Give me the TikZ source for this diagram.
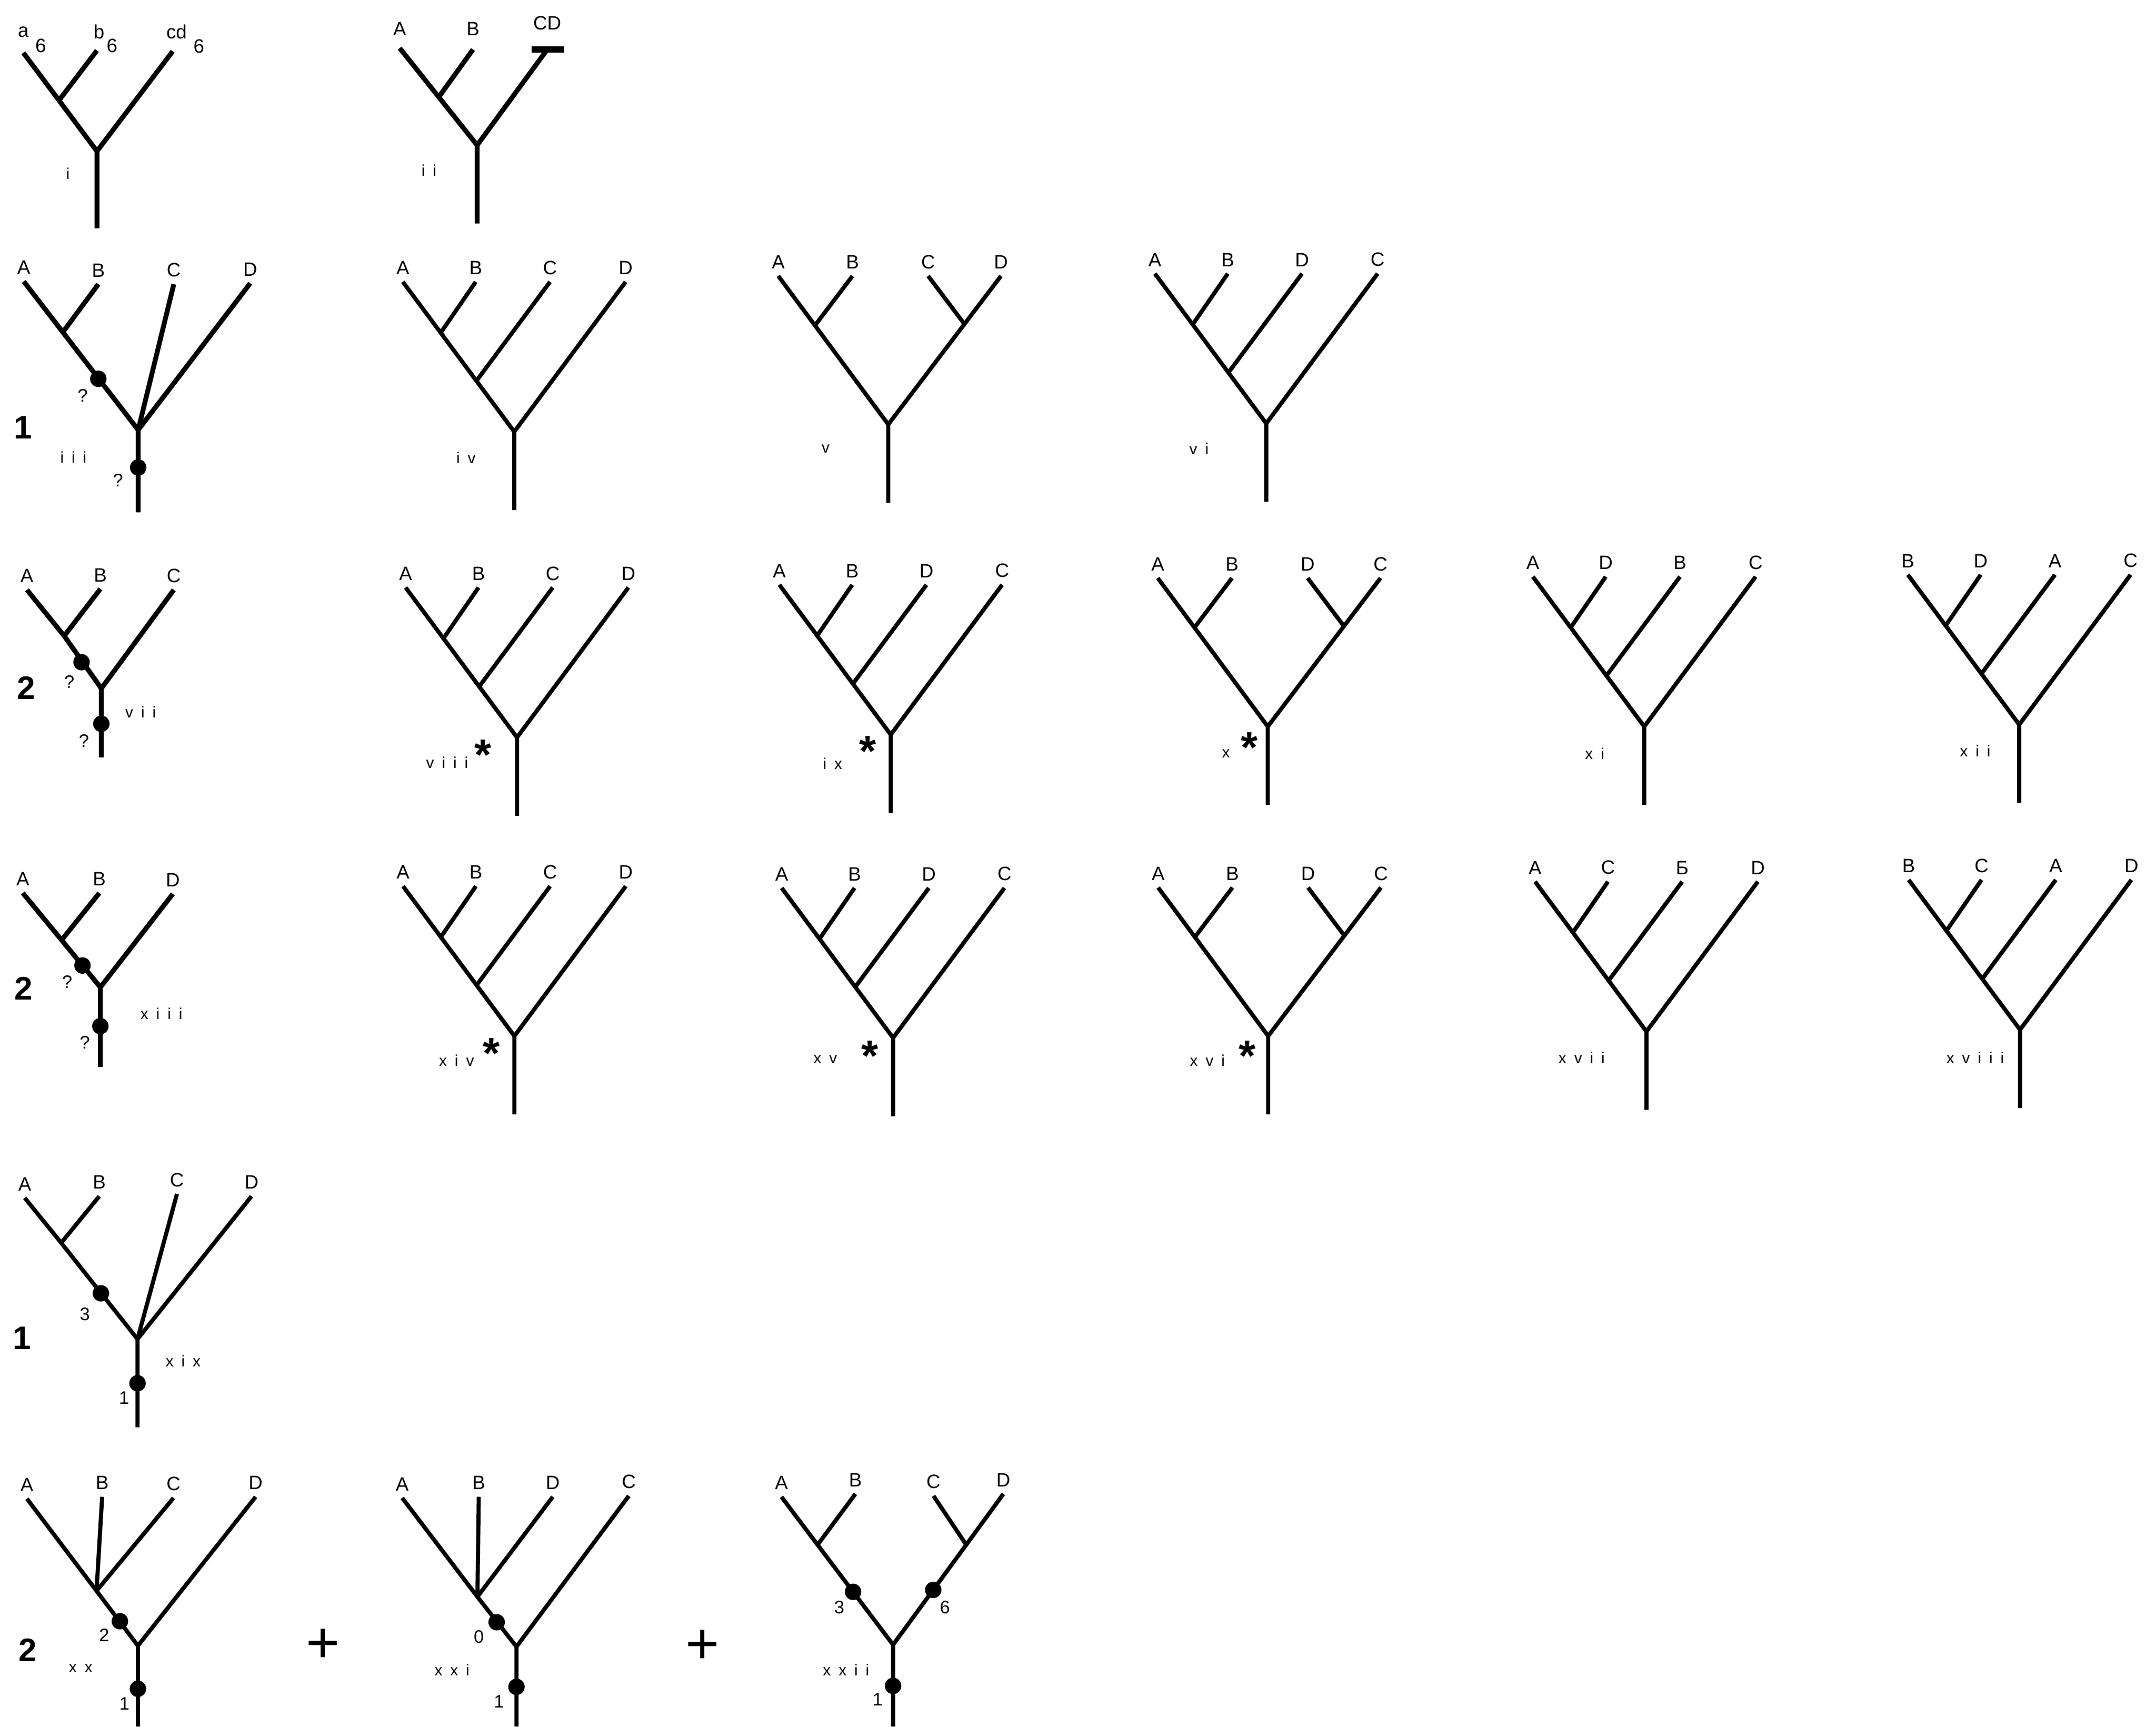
\documentclass[tikz,border=0pt]{standalone}
\usepackage{fontspec}
\setmainfont{Liberation Sans}
\newfontfamily\romanfont[LetterSpace=50]{Liberation Sans}
\usepackage{tikz}
\usetikzlibrary{calc}

\tikzset{
  branch/.style={line width=1.7pt},
  heavy/.style={line width=2pt},
  leaf/.style={anchor=south, inner xsep=0pt, inner ysep=2.8pt, font=\fontsize{8}{8}\selectfont},
  tip/.style={inner sep=0pt, font=\fontsize{8}{8}\selectfont},
  tag/.style={inner sep=0pt, font=\fontsize{7.5}{7.5}\selectfont},
  roman/.style={inner sep=0pt, font={\romanfont\fontsize{6.5}{6.5}\selectfont}},
  groupno/.style={inner sep=0pt, font=\fontsize{13.5}{13.5}\selectfont\bfseries},
  starmark/.style={anchor=north, inner sep=0pt, font=\fontsize{18}{18}\selectfont\bfseries},
  plussign/.style={inner sep=0pt, font=\fontsize{24}{24}\selectfont},
  knot/.style={circle, fill=black, inner sep=0pt, minimum size=6.8pt},
  % comb tree ((a,b),c),d
  pics/ladder/.style n args={4}{code={
    \node[leaf] (-a) at (-81,-109) {#1};
    \node[leaf] (-b) at (-28,-109) {#2};
    \node[leaf] (-c) at (26,-109) {#3};
    \node[leaf] (-d) at (81,-109) {#4};
    \coordinate (-j1) at (-53.5,-72);
    \coordinate (-j2) at (-27.5,-37);
    \coordinate (-r) at (0,0);
    \coordinate (-s) at (0,57);
    \draw[branch] (-a.south) -- (-j1) -- (-j2) -- (-r) -- (-s);
    \draw[branch] (-b.south) -- (-j1);
    \draw[branch] (-c.south) -- (-j2);
    \draw[branch] (-d.south) -- (-r);
  }},
  % balanced tree (a,b),(c,d)
  pics/balanced/.style n args={4}{code={
    \node[leaf] (-a) at (-80,-108) {#1};
    \node[leaf] (-b) at (-26,-108) {#2};
    \node[leaf] (-c) at (29,-108) {#3};
    \node[leaf] (-d) at (82,-108) {#4};
    \coordinate (-j1) at (-53.3,-72);
    \coordinate (-j2) at (55.4,-73);
    \coordinate (-r) at (0,0);
    \coordinate (-s) at (0,57);
    \draw[branch] (-a.south) -- (-j1) -- (-r) -- (-s);
    \draw[branch] (-b.south) -- (-j1);
    \draw[branch] (-d.south) -- (-j2) -- (-r);
    \draw[branch] (-c.south) -- (-j2);
  }}
}

\begin{document}
\begin{tikzpicture}[x=0.02cm, y=-0.02cm]
  \useasboundingbox (0,0) rectangle (1568,1255.7);

  % Tree i
  \coordinate (ia) at (17,38.4);
  \coordinate (ib) at (70.5,36.7);
  \coordinate (icd) at (125.6,37.3);
  \coordinate (iab) at (42.9,73);
  \coordinate (ir) at (70.5,110);
  \coordinate (is) at (70.5,166);
  \draw[heavy] (ia) -- (iab) -- (ir) -- (is);
  \draw[heavy] (ib) -- (iab);
  \draw[heavy] (icd) -- (ir);
  \node[tip, anchor=base] (ta) at (17,27) {a};
  \node[tip, anchor=north] (ta6) at (29.6,28) {6};
  \node[tip, anchor=base] (tb) at (72,28) {b};
  \node[tip, anchor=north] (tb6) at (81.5,28) {6};
  \node[tip, anchor=base] (tcd) at (128.4,28) {cd};
  \node[tip, anchor=north] (tcd6) at (144.6,28.5) {6};
  \node[roman] (ni) at (49.4,126.4) {i};

  % Tree ii
  \node[leaf] (iiA) at (290.7,31) {A};
  \node[leaf] (iiB) at (344,31) {B};
  \node[leaf] (iiCD) at (398,27) {CD};
  \coordinate (iiAt) at (290.7,35);
  \coordinate (iiBt) at (344,36);
  \coordinate (iiC) at (398,36);
  \coordinate (iiAB) at (319.1,70.6);
  \coordinate (iir) at (347,105.6);
  \coordinate (iis) at (347,162.6);
  \draw[heavy] (iiAt) -- (iiAB) -- (iir) -- (iis);
  \draw[heavy] (iiBt) -- (iiAB);
  \draw[heavy] (iiC) -- (iir);
  \draw[line width=2.6pt] ($(iiC)+(-11.5,0)$) -- ($(iiC)+(12.5,0)$);
  \node[roman] (nii) at (312,124) {ii};

  % Tree iii
  \node[leaf] (iiiA) at (17.3,204.7) {A};
  \node[leaf] (iiiB) at (71.5,206.7) {B};
  \node[leaf] (iiiC) at (126.4,206.7) {C};
  \node[leaf] (iiiD) at (182,206) {D};
  \coordinate (iiiAB) at (45.7,241.6);
  \coordinate (iiir) at (100.5,312.7);
  \coordinate (iiis) at (100.5,372.6);
  \draw[heavy] (iiiA.south) -- (iiiAB) -- (iiir) -- (iiis);
  \draw[heavy] (iiiB.south) -- (iiiAB);
  \draw[heavy] (iiiC.south) -- (iiir);
  \draw[heavy] (iiiD.south) -- (iiir);
  \node[knot] (iiik1) at (71.5,275.5) {};
  \node[knot] (iiik2) at (100.5,340) {};
  \node[tag] (iiiq1) at (60.2,287.7) {?};
  \node[tag] (iiiq2) at (85.8,349.5) {?};
  \node[groupno] (g1) at (16.6,311) {1};
  \node[roman] (niii) at (53.4,332.4) {iii};

  % Trees iv - vi
  \pic (iv) at (374,314) {ladder={A}{B}{C}{D}};
  \pic (v) at (646,308.7) {balanced={A}{B}{C}{D}};
  \pic (vi) at (920.9,308) {ladder={A}{B}{D}{C}};
  \node[roman] (niv) at (338.9,333) {iv};
  \node[roman] (nv) at (600.5,326.5) {v};
  \node[roman] (nvi) at (872,326.5) {vi};

  % Tree vii
  \node[leaf] (viiA) at (19.6,429) {A};
  \node[leaf] (viiB) at (73,428.3) {B};
  \node[leaf] (viiC) at (126.4,429) {C};
  \coordinate (viiAB) at (46.7,462.5);
  \coordinate (viir) at (73.7,500.7);
  \coordinate (viis) at (73.7,550.8);
  \draw[heavy] (viiA.south) -- (viiAB) -- (viir) -- (viis);
  \draw[heavy] (viiB.south) -- (viiAB);
  \draw[heavy] (viiC.south) -- (viir);
  \node[knot] (viik1) at (59.3,481.6) {};
  \node[knot] (viik2) at (73.7,526.4) {};
  \node[tag] (viiq1) at (50.4,496) {?};
  \node[tag] (viiq2) at (61,538.9) {?};
  \node[groupno] (g2) at (19.2,500.3) {2};
  \node[roman] (nvii) at (102.3,517.8) {vii};

  % Trees viii - xii
  \pic (viii) at (376,536.3) {ladder={A}{B}{C}{D}};
  \pic (ix) at (647.8,534.3) {ladder={A}{B}{D}{C}};
  \pic (x) at (922,528.4) {balanced={A}{B}{D}{C}};
  \pic (xi) at (1195.8,528.4) {ladder={A}{D}{B}{C}};
  \pic (xii) at (1468.5,527) {ladder={B}{D}{A}{C}};
  \node[roman] (nviii) at (325.2,554.7) {viii};
  \node[roman] (nix) at (605.5,555.4) {ix};
  \node[roman] (nx) at (891.6,548.1) {x};
  \node[roman] (nxi) at (1159.8,548.1) {xi};
  \node[roman] (nxii) at (1436.5,546.1) {xii};
  \node[starmark] (sviii) at (351.4,537.6) {*};
  \node[starmark] (six) at (630.9,535) {*};
  \node[starmark] (sx) at (908.5,532.4) {*};

  % Tree xiii
  \node[leaf] (xiiiA) at (16.6,649.5) {A};
  \node[leaf] (xiiiB) at (72.2,649.5) {B};
  \node[leaf] (xiiiD) at (125.7,650.1) {D};
  \coordinate (xiiiAB) at (44.8,683.7);
  \coordinate (xiiir) at (73,718);
  \coordinate (xiiis) at (73,775.9);
  \draw[heavy] (xiiiA.south) -- (xiiiAB) -- (xiiir) -- (xiiis);
  \draw[heavy] (xiiiB.south) -- (xiiiAB);
  \draw[heavy] (xiiiD.south) -- (xiiir);
  \node[knot] (xiiik1) at (60,702.2) {};
  \node[knot] (xiiik2) at (73,746.3) {};
  \node[tag] (xiiiq1) at (48.9,714) {?};
  \node[tag] (xiiiq2) at (61.7,758.1) {?};
  \node[groupno] (g3) at (17.3,718.9) {2};
  \node[roman] (nxiii) at (117.4,737) {xiii};

  % Trees xiv - xviii
  \pic (xiv) at (374.1,753.5) {ladder={A}{B}{C}{D}};
  \pic (xv) at (649.5,754.8) {ladder={A}{B}{D}{C}};
  \pic (xvi) at (922.3,753.5) {balanced={A}{B}{D}{C}};
  \pic (xvii) at (1197.4,750.2) {ladder={A}{C}{Б}{D}};
  \pic (xviii) at (1469.1,748.9) {ladder={B}{C}{A}{D}};
  \node[roman] (nxiv) at (332,771.3) {xiv};
  \node[roman] (nxv) at (600.2,770.6) {xv};
  \node[roman] (nxvi) at (878.1,771.3) {xvi};
  \node[roman] (nxvii) at (1150.3,769.3) {xvii};
  \node[roman] (nxviii) at (1436.5,769.3) {xviii};
  \node[starmark] (sxiv) at (357.4,754.9) {*};
  \node[starmark] (sxv) at (632.7,756.9) {*};
  \node[starmark] (sxvi) at (907.1,756.9) {*};

  % Tree xix
  \node[leaf] (xixA) at (18,871.2) {A};
  \node[leaf] (xixB) at (72.2,870) {B};
  \node[leaf] (xixC) at (128.7,868.3) {C};
  \node[leaf] (xixD) at (182.9,870) {D};
  \coordinate (xixAB) at (44.5,903.9);
  \coordinate (xixr) at (100,973.9);
  \coordinate (xixs) at (100,1038);
  \draw[branch] (xixA.south) -- (xixAB) -- (xixr) -- (xixs);
  \draw[branch] (xixB.south) -- (xixAB);
  \draw[branch] (xixC.south) -- (xixr);
  \draw[branch] (xixD.south) -- (xixr);
  \node[knot] (xixk1) at (73.4,940.6) {};
  \node[knot] (xixk2) at (100,1006) {};
  \node[tag] (xixn1) at (61.7,955.8) {3};
  \node[tag] (xixn2) at (90.2,1016.7) {1};
  \node[groupno] (g4) at (15.8,973) {1};
  \node[roman] (nxix) at (133.2,989.7) {xix};

  % Tree xx
  \node[leaf] (xxA) at (19.6,1090) {A};
  \node[leaf] (xxB) at (74.3,1088.6) {B};
  \node[leaf] (xxC) at (126.2,1089.4) {C};
  \node[leaf] (xxD) at (185.9,1088.6) {D};
  \coordinate (xxABC) at (70.2,1157);
  \coordinate (xxr) at (100.3,1196.9);
  \coordinate (xxs) at (100.3,1255.7);
  \draw[branch] (xxA.south) -- (xxABC) -- (xxr) -- (xxs);
  \draw[branch] (xxB.south) -- (xxABC);
  \draw[branch] (xxC.south) -- (xxABC);
  \draw[branch] (xxD.south) -- (xxr);
  \node[knot] (xxk1) at (87.2,1179.1) {};
  \node[knot] (xxk2) at (100.3,1228.2) {};
  \node[tag] (xxn1) at (75.8,1189) {2};
  \node[tag] (xxn2) at (90.5,1238.9) {1};
  \node[groupno] (g5) at (20.2,1200) {2};
  \node[roman] (nxx) at (58.7,1213.2) {xx};
  \node[plussign] (p1) at (234.8,1196.9) {+};

  % Tree xxi
  \node[leaf] (xxiA) at (292.5,1089.4) {A};
  \node[leaf] (xxiB) at (348.2,1088.6) {B};
  \node[leaf] (xxiD) at (402,1088.6) {D};
  \node[leaf] (xxiC) at (457.3,1087.9) {C};
  \coordinate (xxiABD) at (347.2,1161.3);
  \coordinate (xxir) at (375.6,1197.6);
  \coordinate (xxis) at (375.6,1255.7);
  \draw[branch] (xxiA.south) -- (xxiABD) -- (xxir) -- (xxis);
  \draw[branch] (xxiB.south) -- (xxiABD);
  \draw[branch] (xxiD.south) -- (xxiABD);
  \draw[branch] (xxiC.south) -- (xxir);
  \node[knot] (xxik1) at (361.2,1179.8) {};
  \node[knot] (xxik2) at (375.6,1226.8) {};
  \node[tag] (xxin1) at (348.2,1190.4) {0};
  \node[tag] (xxin2) at (362.9,1237.5) {1};
  \node[roman] (nxxi) at (328.7,1214.7) {xxi};
  \node[plussign] (p2) at (511.1,1197.6) {+};

  % Tree xxii
  \node[leaf] (xxiiA) at (568.3,1088.6) {A};
  \node[leaf] (xxiiB) at (622.1,1086.5) {B};
  \node[leaf] (xxiiC) at (678.9,1087.9) {C};
  \node[leaf] (xxiiD) at (729.7,1086.5) {D};
  \coordinate (xxiiAB) at (594.6,1123.5);
  \coordinate (xxiiCD) at (702.7,1123.5);
  \coordinate (xxiir) at (649.5,1196.2);
  \coordinate (xxiis) at (649.5,1255.7);
  \draw[branch] (xxiiA.south) -- (xxiiAB) -- (xxiir) -- (xxiis);
  \draw[branch] (xxiiB.south) -- (xxiiAB);
  \draw[branch] (xxiiD.south) -- (xxiiCD) -- (xxiir);
  \draw[branch] (xxiiC.south) -- (xxiiCD);
  \node[knot] (xxiik1) at (620.4,1157.7) {};
  \node[knot] (xxiik2) at (678.7,1156.3) {};
  \node[knot] (xxiik3) at (649.5,1226.1) {};
  \node[tag] (xxiin1) at (610.4,1169.1) {3};
  \node[tag] (xxiin2) at (687.2,1169.1) {6};
  \node[tag] (xxiin3) at (638.3,1236.1) {1};
  \node[roman] (nxxii) at (615.3,1214.7) {xxii};
\end{tikzpicture}
\end{document}
